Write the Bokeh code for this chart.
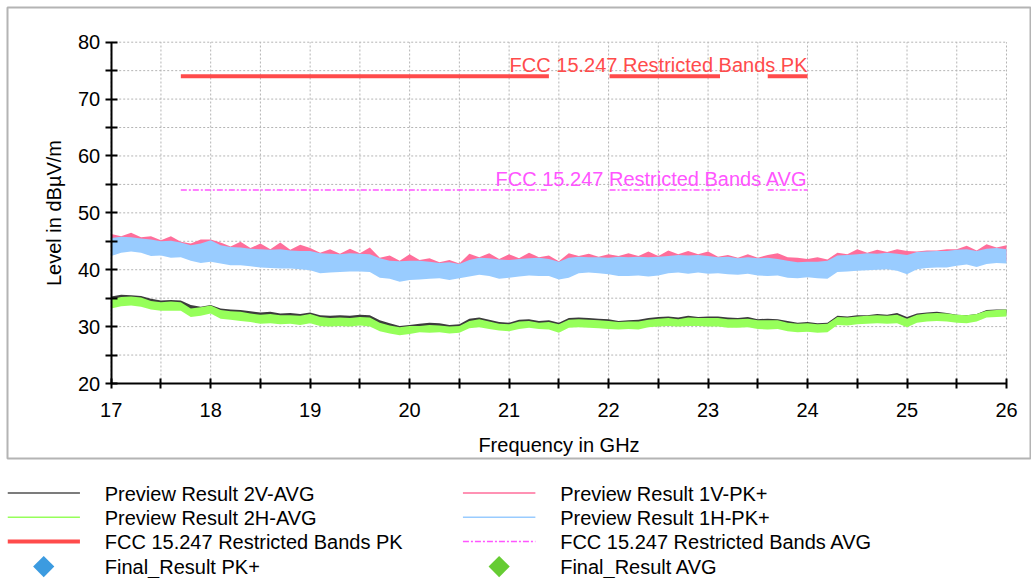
from bokeh.plotting import figure
from bokeh.layouts import column
from bokeh.models import FixedTicker, Range1d
from bokeh.core.properties import value
from bokeh.embed import file_html
from bokeh.resources import INLINE

FONT = "Liberation Sans"

# Sweep frequencies (GHz)
freq_ghz = [
    17.0, 17.1, 17.2, 17.3, 17.4, 17.5, 17.6, 17.7, 17.8, 17.9,
    18.0, 18.1, 18.2, 18.3, 18.4, 18.5, 18.6, 18.7, 18.8, 18.9,
    19.0, 19.1, 19.2, 19.3, 19.4, 19.5, 19.6, 19.7, 19.8, 19.9,
    20.0, 20.1, 20.2, 20.3, 20.4, 20.5, 20.6, 20.7, 20.8, 20.9,
    21.0, 21.1, 21.2, 21.3, 21.4, 21.5, 21.6, 21.7, 21.8, 21.9,
    22.0, 22.1, 22.2, 22.3, 22.4, 22.5, 22.6, 22.7, 22.8, 22.9,
    23.0, 23.1, 23.2, 23.3, 23.4, 23.5, 23.6, 23.7, 23.8, 23.9,
    24.0, 24.1, 24.2, 24.3, 24.4, 24.5, 24.6, 24.7, 24.8, 24.9,
    25.0, 25.1, 25.2, 25.3, 25.4, 25.5, 25.6, 25.7, 25.8, 25.9,
    26.0,
]

# Preview Result 1V-PK+ (min / max of the trace within each step, dBuV/m)
pk1v_lo = [
    42.8, 43.4, 43.6, 43.4, 42.8, 42.9, 42.5, 42.6, 42.0, 41.6,
    41.8, 41.5, 41.2, 41.2, 41.0, 40.8, 40.7, 40.6, 40.6, 40.5,
    40.3, 39.8, 39.9, 40.0, 40.1, 40.1, 40.0, 39.0, 38.8, 38.3,
    38.6, 38.7, 38.8, 38.9, 38.6, 38.9, 39.2, 39.5, 39.3, 38.8,
    39.0, 39.2, 39.4, 39.3, 39.3, 38.7, 39.0, 39.8, 39.9, 39.8,
    39.6, 39.3, 39.3, 39.4, 39.2, 39.4, 39.8, 39.9, 39.7, 39.9,
    39.7, 39.8, 39.6, 39.5, 39.7, 39.4, 39.3, 39.4, 39.0, 38.9,
    39.1, 38.9, 38.8, 40.0, 40.1, 40.2, 40.3, 40.4, 40.5, 40.2,
    39.6, 40.5, 40.7, 40.8, 40.8, 41.1, 41.3, 40.9, 41.4, 41.6,
    41.5,
]
pk1v_hi = [
    46.3, 45.9, 46.5, 45.7, 45.9, 45.2, 45.9, 44.9, 44.6, 45.3,
    45.3, 44.8, 44.1, 44.9, 43.8, 44.6, 43.6, 44.8, 43.5, 44.4,
    43.8, 43.0, 43.6, 42.8, 43.7, 42.9, 43.9, 42.1, 42.5, 41.6,
    42.7, 41.7, 42.0, 41.3, 41.7, 41.1, 42.8, 42.2, 42.9, 41.9,
    42.7, 42.0, 43.0, 42.2, 42.5, 41.5, 42.9, 42.4, 42.8, 42.3,
    42.7, 42.4, 42.9, 42.4, 43.2, 42.4, 43.4, 42.7, 43.3, 42.7,
    43.2, 42.3, 42.6, 42.1, 42.7, 42.1, 42.6, 42.9, 42.2, 42.1,
    41.9, 42.2, 41.8, 43.0, 42.7, 43.6, 43.0, 43.5, 43.1, 43.6,
    43.3, 43.2, 43.4, 43.4, 43.6, 43.6, 44.2, 43.4, 44.5, 43.9,
    44.3,
]

# Preview Result 1H-PK+
pk1h_lo = [
    42.4, 43.0, 43.2, 43.0, 42.4, 42.5, 42.1, 42.2, 41.6, 41.2,
    41.4, 41.1, 40.8, 40.8, 40.6, 40.4, 40.3, 40.2, 40.2, 40.1,
    39.9, 39.4, 39.5, 39.6, 39.7, 39.7, 39.6, 38.6, 38.4, 37.9,
    38.2, 38.3, 38.4, 38.5, 38.2, 38.5, 38.8, 39.1, 38.9, 38.4,
    38.6, 38.8, 39.0, 38.9, 38.9, 38.3, 38.6, 39.4, 39.5, 39.4,
    39.2, 38.9, 38.9, 39.0, 38.8, 39.0, 39.4, 39.5, 39.3, 39.5,
    39.3, 39.4, 39.2, 39.1, 39.3, 39.0, 38.9, 39.0, 38.6, 38.5,
    38.7, 38.5, 38.4, 39.6, 39.7, 39.8, 39.9, 40.0, 40.1, 39.8,
    39.2, 40.1, 40.3, 40.4, 40.4, 40.7, 40.9, 40.5, 41.0, 41.2,
    41.1,
]
pk1h_hi = [
    45.6, 45.8, 45.7, 45.5, 45.3, 45.0, 45.1, 44.8, 44.3, 44.6,
    45.2, 44.3, 44.0, 43.9, 43.7, 43.6, 43.5, 43.6, 43.4, 43.3,
    43.3, 42.9, 42.8, 42.7, 42.9, 42.8, 42.7, 42.0, 41.6, 41.5,
    41.6, 41.6, 41.4, 41.2, 41.3, 41.0, 41.7, 42.1, 42.0, 41.8,
    41.7, 41.9, 42.0, 42.1, 41.9, 41.4, 42.1, 42.3, 42.2, 42.2,
    42.1, 42.3, 42.2, 42.3, 42.2, 42.3, 42.4, 42.6, 42.5, 42.6,
    42.4, 42.2, 42.3, 42.0, 42.2, 42.0, 42.1, 41.9, 41.6, 41.3,
    41.4, 41.4, 41.6, 42.5, 42.6, 42.7, 42.9, 42.8, 43.0, 42.8,
    42.6, 43.1, 43.2, 43.3, 43.3, 43.5, 43.6, 43.3, 43.7, 43.8,
    43.6,
]

# Preview Result 2V-AVG
avg2v_lo = [
    33.7, 34.1, 34.2, 34.0, 33.5, 33.3, 33.3, 33.3, 32.2, 32.4,
    32.8, 31.9, 31.7, 31.5, 31.3, 31.0, 31.1, 30.9, 31.0, 30.8,
    31.1, 30.6, 30.5, 30.6, 30.5, 30.7, 30.5, 29.7, 29.3, 29.0,
    29.2, 29.5, 29.4, 29.5, 29.3, 29.4, 30.2, 30.4, 30.1, 29.8,
    29.7, 30.1, 30.3, 30.1, 30.0, 29.4, 30.3, 30.4, 30.3, 30.2,
    30.1, 30.0, 30.1, 30.0, 30.4, 30.5, 30.6, 30.5, 30.6, 30.6,
    30.5, 30.5, 30.3, 30.3, 30.4, 30.1, 30.0, 30.1, 29.7, 29.5,
    29.6, 29.4, 29.5, 30.8, 30.7, 30.9, 31.0, 31.1, 31.0, 31.1,
    30.4, 31.2, 31.4, 31.5, 31.4, 31.2, 31.1, 31.4, 32.1, 32.2,
    32.3,
]
avg2v_hi = [
    35.3, 35.6, 35.5, 35.4, 34.9, 34.6, 34.7, 34.6, 33.8, 33.5,
    33.8, 33.2, 33.0, 32.9, 32.7, 32.5, 32.6, 32.3, 32.4, 32.2,
    32.5, 32.0, 31.9, 32.0, 31.9, 32.1, 32.0, 31.1, 30.6, 30.1,
    30.3, 30.5, 30.7, 30.6, 30.3, 30.4, 31.4, 31.6, 31.2, 30.8,
    30.7, 31.2, 31.3, 31.0, 31.1, 30.7, 31.5, 31.6, 31.5, 31.4,
    31.3, 31.0, 31.1, 31.2, 31.5, 31.7, 31.8, 31.6, 31.9, 31.7,
    31.8, 31.8, 31.6, 31.5, 31.7, 31.3, 31.4, 31.3, 31.0, 30.7,
    30.8, 30.6, 30.7, 31.9, 31.8, 32.0, 32.0, 32.2, 32.1, 32.4,
    31.7, 32.3, 32.5, 32.6, 32.4, 32.1, 32.0, 32.2, 32.9, 33.0,
    33.0,
]

# Preview Result 2H-AVG
avg2h_lo = [
    33.2, 33.6, 33.7, 33.5, 33.0, 32.8, 32.8, 32.8, 31.7, 31.9,
    32.3, 31.4, 31.2, 31.0, 30.8, 30.5, 30.6, 30.4, 30.5, 30.3,
    30.6, 30.1, 30.0, 30.1, 30.0, 30.2, 30.0, 29.2, 28.8, 28.5,
    28.7, 29.0, 28.9, 29.0, 28.8, 28.9, 29.7, 29.9, 29.6, 29.3,
    29.2, 29.6, 29.8, 29.6, 29.5, 28.9, 29.8, 29.9, 29.8, 29.7,
    29.6, 29.5, 29.6, 29.5, 29.9, 30.0, 30.1, 30.0, 30.1, 30.1,
    30.0, 30.0, 29.8, 29.8, 29.9, 29.6, 29.5, 29.6, 29.2, 29.0,
    29.1, 28.9, 29.0, 30.3, 30.2, 30.4, 30.5, 30.6, 30.5, 30.6,
    29.9, 30.7, 30.9, 31.0, 30.9, 30.7, 30.6, 30.9, 31.6, 31.7,
    31.8,
]
avg2h_hi = [
    34.8, 35.2, 35.3, 35.1, 34.5, 34.3, 34.4, 34.3, 33.2, 33.4,
    33.7, 32.9, 32.7, 32.6, 32.3, 32.1, 32.2, 32.0, 32.0, 31.9,
    32.2, 31.7, 31.5, 31.6, 31.5, 31.7, 31.6, 30.7, 30.2, 29.9,
    30.1, 30.1, 30.3, 30.2, 30.0, 30.1, 31.0, 31.3, 30.9, 30.5,
    30.4, 30.9, 31.0, 30.7, 30.8, 30.4, 31.2, 31.3, 31.2, 31.1,
    31.0, 30.8, 30.9, 30.9, 31.2, 31.4, 31.5, 31.3, 31.6, 31.5,
    31.5, 31.5, 31.3, 31.3, 31.4, 31.1, 31.1, 31.1, 30.7, 30.5,
    30.6, 30.4, 30.5, 31.7, 31.6, 31.8, 31.9, 32.0, 31.9, 32.1,
    31.4, 32.1, 32.3, 32.4, 32.3, 32.1, 32.0, 32.2, 32.8, 32.9,
    33.0,
]

# FCC 15.247 restricted bands inside the sweep (GHz) and their limits
band_start = [17.7, 22.01, 23.6]
band_end = [21.4, 23.12, 24.0]
limit_pk = 74
limit_avg = 54

x_major = [17, 18, 19, 20, 21, 22, 23, 24, 25, 26]
x_minor = [17.5, 18.5, 19.5, 20.5, 21.5, 22.5, 23.5, 24.5, 25.5]
y_major = [20, 30, 40, 50, 60, 70, 80]
y_minor = [25, 35, 45, 55, 65, 75]

C_2V = "#3c3c3c"
C_2H = "#96ff5a"
C_1V = "#ff6e9b"
C_1H = "#99ccff"
C_PK = "#ff4b4b"
C_AVG = "#ff55ff"
C_GRID = "#b4b4b4"

# ---- page geometry (pixels) ----
W, MAIN_H, LEG_H = 1031, 462, 116
BOX_L, BOX_T, BOX_R, BOX_B = 7, 7, 1030, 458          # framed chart panel
AX_L, AX_T, AX_R, AX_B = 110.7, 41.7, 1006.0, 383.0   # where the axes sit

X0, X1 = x_major[0], x_major[-1]
Y0, Y1 = y_major[0], y_major[-1]
gx = (X1 - X0) / (AX_R - AX_L)
gy = (Y1 - Y0) / (AX_B - AX_T)
x_rng = Range1d(X0 - (AX_L - BOX_L) * gx, X1 + (BOX_R - AX_R) * gx)
y_rng = Range1d(Y0 - (BOX_B - AX_B) * gy, Y1 + (AX_T - BOX_T) * gy)

p = figure(width=W, height=MAIN_H, x_range=x_rng, y_range=y_rng,
           output_backend="svg", toolbar_location=None,
           min_border_left=BOX_L, min_border_right=W - BOX_R,
           min_border_top=BOX_T, min_border_bottom=MAIN_H - BOX_B)
p.outline_line_color = "#b4b4b4"
p.outline_line_width = 2
p.background_fill_color = "white"
p.border_fill_color = "white"
p.grid.visible = False

# dotted grid at every labelled and half step, limited to the axis box
gx_all = x_major + x_minor
gy_all = y_major + y_minor
p.segment(x0=gx_all, y0=[Y0] * len(gx_all), x1=gx_all, y1=[Y1] * len(gx_all),
          line_color=C_GRID, line_width=1, line_dash="2 2")
p.segment(x0=[X0] * len(gy_all), y0=gy_all, x1=[X1] * len(gy_all), y1=gy_all,
          line_color=C_GRID, line_width=1, line_dash="2 2")

xa = p.xaxis[0]
ya = p.yaxis[0]
xa.fixed_location = Y0
ya.fixed_location = X0
xa.bounds = (X0, X1)
ya.bounds = (Y0, Y1)
xa.ticker = FixedTicker(ticks=x_major, minor_ticks=x_minor)
ya.ticker = FixedTicker(ticks=y_major, minor_ticks=y_minor)

for ax in (xa, ya):
    ax.axis_line_color = "black"
    ax.axis_line_width = 2
    ax.major_tick_line_color = "black"
    ax.major_tick_line_width = 2
    ax.minor_tick_line_color = "black"
    ax.minor_tick_line_width = 2
    ax.major_label_text_font = FONT
    ax.major_label_text_font_size = "20px"
    ax.major_label_text_color = "black"
    ax.axis_label_text_font = FONT
    ax.axis_label_text_font_size = "20px"
    ax.axis_label_text_font_style = "normal"
    ax.axis_label_text_color = "black"

xa.major_tick_in = 5
xa.major_tick_out = 5
xa.minor_tick_in = 5
xa.minor_tick_out = 5
ya.major_tick_in = 6
ya.major_tick_out = 6
ya.minor_tick_in = 6
ya.minor_tick_out = 6
xa.major_label_standoff = 14
ya.major_label_standoff = 5
xa.axis_label = "Frequency in GHz"
ya.axis_label = "Level in dBµV/m"
xa.axis_label_standoff = 14
ya.axis_label_standoff = 10

# measured traces (min/max envelopes)
p.varea(x=freq_ghz, y1=avg2v_lo, y2=avg2v_hi, fill_color=C_2V)
p.varea(x=freq_ghz, y1=avg2h_lo, y2=avg2h_hi, fill_color=C_2H)
p.varea(x=freq_ghz, y1=pk1v_lo, y2=pk1v_hi, fill_color=C_1V)
p.varea(x=freq_ghz, y1=pk1h_lo, y2=pk1h_hi, fill_color=C_1H)

# limit lines over the restricted bands
nb = len(band_start)
p.segment(x0=band_start, y0=[limit_pk] * nb, x1=band_end, y1=[limit_pk] * nb,
          line_color=C_PK, line_width=4)
p.segment(x0=band_start, y0=[limit_avg] * nb, x1=band_end, y1=[limit_avg] * nb,
          line_color=C_AVG, line_width=1.5, line_dash="6 2 2 2")
p.text(x=[band_end[-1]], y=[limit_pk], text=["FCC 15.247 Restricted Bands PK"],
       text_align="right", text_baseline="bottom",
       text_color=C_PK, text_font=value(FONT), text_font_size="20px")
p.text(x=[band_end[-1]], y=[limit_avg], text=["FCC 15.247 Restricted Bands AVG"],
       text_align="right", text_baseline="bottom",
       text_color=C_AVG, text_font=value(FONT), text_font_size="20px")

# ---- legend panel below the chart ----
leg_labels = [
    "Preview Result 2V-AVG", "Preview Result 2H-AVG",
    "FCC 15.247 Restricted Bands PK", "Final_Result PK+",
    "Preview Result 1V-PK+", "Preview Result 1H-PK+",
    "FCC 15.247 Restricted Bands AVG", "Final_Result AVG",
]
leg_kind = ["line", "line", "line", "diamond", "line", "line", "line", "diamond"]
leg_color = ["#505050", C_2H, C_PK, "#3c9be0", C_1V, C_1H, C_AVG, "#66cc33"]
leg_width = [1.5, 1.5, 4, 0, 1.5, 1.5, 1.5, 0]
leg_dash = ["solid", "solid", "solid", "solid", "solid", "solid", "6 2 2 2", "solid"]

COL_X = [0, 459]
ROW_Y0, ROW_DY = 31.5, 24.2
SW_W, TXT_GAP = 73, 25

lg = figure(width=W, height=LEG_H, x_range=Range1d(0, W), y_range=Range1d(LEG_H, 0),
            output_backend="svg", toolbar_location=None,
            x_axis_location=None, y_axis_location=None,
            min_border_left=0, min_border_right=0, min_border_top=0, min_border_bottom=0)
lg.outline_line_color = None
lg.grid.visible = False
lg.background_fill_color = "white"
lg.border_fill_color = "white"

for i, lab in enumerate(leg_labels):
    cx = COL_X[i // 4]
    cy = ROW_Y0 + (i % 4) * ROW_DY
    if leg_kind[i] == "line":
        lg.segment(x0=[cx], y0=[cy - 1], x1=[cx + SW_W], y1=[cy - 1],
                   line_color=leg_color[i], line_width=leg_width[i], line_dash=leg_dash[i])
    else:
        lg.scatter(x=[cx + SW_W / 2], y=[cy], marker="square", angle=0.785398,
                   size=15, fill_color=leg_color[i], line_color=None)
    lg.text(x=[cx + SW_W + TXT_GAP], y=[cy], text=[lab], text_align="left",
            text_baseline="middle", text_color="black",
            text_font=value(FONT), text_font_size="20px")

page = column(p, lg, spacing=0)
open("out.html", "w").write(file_html(page, INLINE))
